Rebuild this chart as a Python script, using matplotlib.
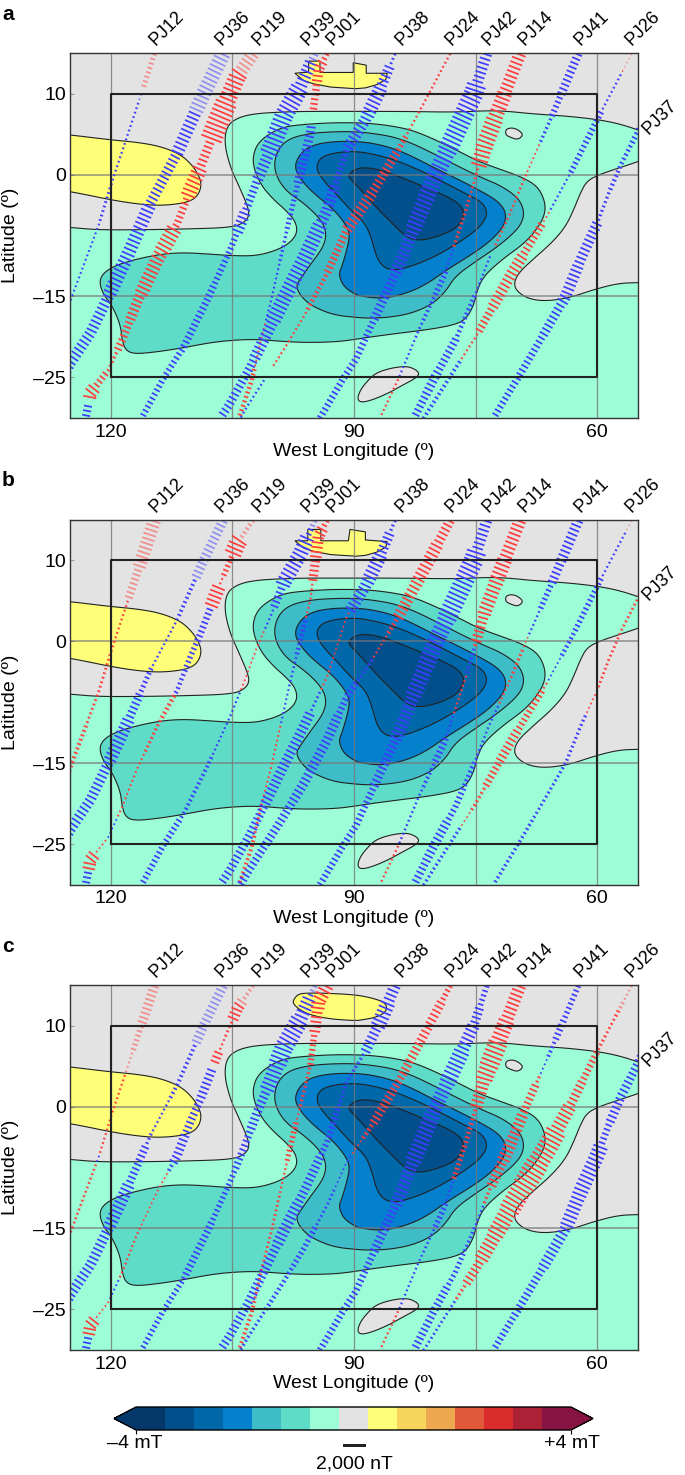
import numpy as np
import matplotlib
matplotlib.use("Agg")
import matplotlib.pyplot as plt
from matplotlib.colors import ListedColormap, BoundaryNorm
from matplotlib.colorbar import ColorbarBase
from matplotlib.patches import Rectangle

plt.rcParams["font.family"] = ["Liberation Sans", "DejaVu Sans"]

######## colour scale

scale_colors = ["#04386b", "#034f8c", "#0068a9", "#0580cc", "#3ebdc9", "#5fdcc8", "#9dfdd6",
                "#e3e3e3", "#fefe78", "#f7d55c", "#eea950", "#e05a3a", "#d92d2d", "#ad2137", "#861342"]
scale_levels = [-4 + i * 8 / 15 for i in range(16)]

######## contours as (west longitude, latitude)

green_region = [(127.5, -6.4), (125, -6.5), (121.7, -6.8), (116.8, -6.8), (110.6, -6.7), (104.9, -6.5), (103.4, -5.8),
                (102.9, -4.9), (103.2, -3.7), (104.2, -1.4), (105.3, 1), (106, 3.9), (105.7, 6), (104.4, 7), (102.4, 7.5),
                (99.5, 7.7), (96.2, 7.8), (92.1, 7.8), (83.9, 7.8), (77.5, 7.7), (73.4, 7.9), (70.9, 7.8), (68, 7.5),
                (63.5, 7.2), (60, 6.8), (57.4, 6.3), (54.9, 5.5), (52.6, 4.7), (52.6, 2.5), (55, 1.6), (57.4, 0.8),
                (59.8, 0), (61.3, -0.8), (62.1, -2.3), (62.9, -4.3), (63.9, -6.4), (65.6, -8.4), (68, -10.5),
                (69.7, -12.1), (70.3, -13.4), (69.9, -14.4), (68.5, -15.3), (66.4, -15.6), (63.5, -15.2), (60.2, -14.1),
                (57.4, -13.4), (55, -13.3), (52.6, -13.3), (52.6, -14), (52.6, -31.5), (52.6, -32.3), (53.5, -32.3),
                (126.5, -32.3), (127.5, -32.3), (127.5, -31.5), (127.5, -7)]
grey_island_north = [(71.3, 5.6), (70.5, 5.8), (69.7, 5.5), (69.1, 4.9), (69.8, 4.3), (70.7, 4.6), (71.3, 4.9)]
grey_island_south = [(89.6, -27.6), (89.2, -26.5), (88.4, -25.5), (87.4, -24.5), (85.7, -23.9), (83.7, -23.6),
                     (82.6, -23.9), (81.9, -24.5), (82.4, -25.1), (84.1, -26), (85.7, -26.9), (87.8, -27.8), (89.2, -28.1)]
yellow_west = [(127.5, 5.1), (125, 4.9), (120.1, 4.3), (116.8, 4), (113.9, 3.5), (111.4, 2.5), (110, 1.2), (109.2, 0),
               (108.8, -1.2), (109.2, -2.5), (110.2, -3.3), (112.3, -3.7), (114.7, -3.8), (117.6, -3.5), (120.5, -3),
               (122.9, -2.5), (125, -2.1), (127.5, -1.7)]
yellow_north_a = [(97.3, 12.5), (96.2, 12.6), (95.6, 12.6), (95.6, 14), (94.2, 14), (94.2, 12.6), (90.1, 12.6), (90.1, 13.8),
                  (88.5, 13.5), (88.5, 12.5), (85.9, 12.5), (86.1, 11.7), (87.2, 11.1), (88.6, 10.7), (89.8, 10.6),
                  (92.9, 10.8), (95, 11.2), (96.2, 11.6)]
yellow_north_b = [(97.3, 12.4), (95.7, 12.4), (95.7, 13.8), (94.1, 13.8), (94.1, 12.4), (90.7, 12.4), (90.5, 13.8),
                  (88.6, 13.5), (88.6, 12.5), (85.9, 12.3), (86.1, 11.6), (87.2, 11), (88.6, 10.6), (89.8, 10.5),
                  (92.9, 10.7), (95, 11.1), (96.2, 11.5)]
yellow_north_c = [(97.5, 13.1), (97, 13.8), (96.2, 14), (93.75, 14), (89.8, 13.8), (87.8, 13.4), (86.3, 12.9), (85.9, 12.2),
                  (86.3, 11.5), (87.4, 11), (89, 10.7), (89.8, 10.6), (92.9, 10.8), (95.4, 11.3), (96.8, 12), (97.5, 12.7)]
level_2 = [(121.4, -13.4), (121.1, -12.3), (119.7, -11.3), (117.2, -10.5), (113.9, -9.8), (111, -9.6), (107.7, -9.8),
           (104.9, -10), (102, -10), (99.5, -9.3), (97.9, -8.4), (97, -7.2), (97.2, -5.8), (98.3, -4.5), (99.9, -3.1),
           (101.4, -1.4), (102.3, 0.6), (102.5, 2.1), (102, 3.7), (100.7, 4.9), (98.7, 5.9), (96.2, 6.2), (92.9, 6.4),
           (89.8, 6.4), (87.8, 6.3), (85.3, 6), (82.9, 5.5), (80.4, 4.5), (77.5, 3.1), (74.6, 1.6), (71.8, 0.6),
           (69.3, -0.3), (67.4, -1.4), (66.5, -3.1), (66.4, -4.7), (67.2, -6.4), (68.9, -8.4), (71.8, -10.5), (74, -12.5),
           (74.8, -14.2), (75.2, -16), (76.1, -17.7), (77.5, -18.5), (80.8, -19.1), (84.9, -19.6), (88.6, -20.1),
           (89.8, -20.3), (92.1, -20.6), (95.4, -20.7), (98.3, -20.6), (102, -20.3), (104.9, -20.4), (107.7, -20.7),
           (111.4, -21.4), (114.7, -21.9), (117.2, -22.1), (118.2, -21.6), (118.6, -20.4), (118.8, -18.7), (119.4, -17.1),
           (120.1, -15.8), (120.9, -14.8)]
level_3 = [(97.2, -13.8), (96.6, -12.8), (95.4, -11.1), (93.7, -8.8), (93.4, -7), (94.2, -5.4), (96.2, -3.5), (98.3, -2.1),
           (99.5, -0.4), (99.9, 1.4), (99.3, 3.3), (97.9, 4.5), (95.4, 5.1), (92.5, 5.3), (89.8, 5.3), (87.8, 5.1), (85.3, 4.7),
           (82.9, 3.9), (80, 2.5), (77.1, 1), (74.2, -0.4), (71.8, -1.4), (69.7, -2.9), (69, -4.5), (69.3, -6), (70.5, -7.4),
           (72.6, -9.1), (75, -10.7), (77.5, -12.5), (78.7, -14.4), (80.4, -16), (82.9, -17.1), (85.7, -17.6), (88.2, -17.7),
           (89.8, -17.6), (92.5, -17.3), (95, -16.3), (96.4, -15.2)]
level_4 = [(91.9, -12.3), (91.5, -11.3), (90.9, -9.3), (90.5, -7.4), (91.1, -6), (92.7, -4.1), (95, -2.3), (96.6, -0.6),
           (97.4, 1), (96.6, 2.7), (95, 3.7), (92.5, 4.1), (89.8, 4.1), (87.8, 3.9), (85.3, 3.3), (82.9, 2.3), (80, 0.8),
           (77.1, -0.6), (74.2, -2.1), (72.2, -3.3), (71.2, -4.7), (71.5, -6.4), (73.4, -8.4), (75.9, -10.1), (78.5, -11.7),
           (81.2, -13.6), (83.7, -14.7), (86.6, -15.3), (89, -15), (89.8, -14.8), (91.3, -13.8)]
level_5 = [(89.8, 2.9), (92.5, 2.7), (94.2, 2.1), (94.7, 0.8), (93.9, -0.6), (92.1, -2.5), (90.5, -4.3), (88.6, -6), (87.8, -8),
           (87.2, -10.3), (86.3, -11.5), (84.9, -11.8), (82.9, -11.3), (80, -10.1), (77.1, -8.4), (74.6, -6.6), (73.5, -5),
           (74, -3.5), (76.3, -2.3), (79.2, -0.8), (82, 0.6), (84.9, 1.8), (87.4, 2.5)]
level_6 = [(90.7, -0.3), (90.5, 0.2), (89.8, 0.7), (88.6, 0.9), (86.8, 0.6), (84.5, -0.2), (81.6, -1.4), (78.9, -2.5),
           (77.1, -3.5), (76.3, -4.7), (77.1, -6.4), (79.2, -7.5), (82, -8.2), (83.7, -7.6), (85.3, -6), (87, -4.3),
           (88.6, -2.5), (89.8, -1.2)]

######## orbit tracks, (west longitude, latitude)

track_names = ["PJ12", "PJ36", "PJ19", "PJ39", "PJ01", "PJ38", "PJ24", "PJ42", "PJ14", "PJ41", "PJ26", "PJ37"]
track_paths = {
    "PJ12": [(114.6, 15), (116, 10.7), (118.4, 3.5), (119.9, -1), (121.5, -6.2), (123.1, -10.5), (124.8, -15), (125.4, -16.9)],
    "PJ36": [(106.1, 15), (108.6, 9.9), (111.8, 2.7), (115.1, -3.5), (118, -10.1), (120.1, -14.6), (122.5, -19.5), (125, -23.2), (125.8, -24.7)],
    "PJ19": [(102.4, 15), (104.4, 12.1), (106.9, 6.2), (109, 0.8), (110.2, -1.9), (111.8, -6), (114.3, -10.5), (116.8, -15.8),
             (118.6, -20.4), (120.3, -24.1), (122.5, -26.9), (123.1, -30)],
    "PJ39": [(94.8, 15), (96.6, 10.9), (98.7, 7.2), (100.3, 3.1), (102, -0.8), (103.6, -5.1), (105.3, -9.3), (108.1, -15.4),
             (111, -21.2), (113.5, -25.1), (116.2, -30)],
    "PJ01": [(93.3, 15), (94.4, 12.9), (94.8, 9.7), (95.4, 5.1), (96.2, 1.8), (97, -1.4), (97.9, -5.1), (99.1, -10.5),
             (100.3, -15.8), (101.4, -20), (102.6, -25.3), (104.2, -30)],
    "PJ38": [(84.9, 15), (86.8, 10.5), (88.6, 6.8), (90.9, 3.1), (93.3, -4.3), (96.2, -10.5), (98.7, -15.4), (100.7, -19.5),
             (102.8, -23.7), (105.3, -28.2), (106.5, -30)],
    "PJ24": [(78.1, 15), (81.4, 8.8), (84.5, 3.1), (87.8, -2.3), (90.9, -6.8), (93.3, -12.1), (96.2, -17.5), (98.7, -21.6),
             (100.3, -24.1), (103.2, -28.6), (104, -30)],
    "PJ42": [(73.6, 15), (75.2, 10.1), (77.5, 5.1), (80, -0.2), (82.4, -6), (84.5, -11.3), (87, -16.7), (89.8, -22.8),
             (91.3, -25.1), (94.2, -30)],
    "PJ14": [(69.5, 15), (73.8, 3.9), (76.3, -4.7), (78.9, -12.5), (82, -19.1), (84.5, -25.1), (86.8, -30)],
    "PJ41": [(62.3, 15), (65.6, 7.2), (68.7, 0.2), (70.9, -5.1), (73.4, -10.5), (75, -14.6), (77.5, -20.4), (80, -24.9), (82.6, -30)],
    "PJ26": [(55.7, 15), (59.6, 7.6), (63.1, 0.6), (66.2, -5.1), (70.5, -12.1), (75, -20), (77.9, -24.5), (81.4, -30)],
    "PJ37": [(54.3, 6.8), (55.1, 5.1), (57, 1.4), (58.6, -2.3), (60, -6), (61.9, -10.1), (63.9, -15), (66.8, -20), (69.7, -24.9), (72.8, -30)],
}

# field along each track in nT, as (lat from, lat to, value)
field_a = {
    "PJ12": [(15, 10.5, 450), (10, -1, -200), (-1, -6, -260), (-6, -17, -180)],
    "PJ36": [(15, 8, -1300), (8, 2.7, -1100), (2.7, -3.5, -900), (-3.5, -9.7, -1150), (-9.7, -14.6, -1200), (-14.6, -25, -950)],
    "PJ19": [(15, 12.5, 1150), (12.5, 9, 1500), (9, 4.3, 1900), (4.3, 0.8, 800), (0.8, -3, 1300), (-3, -6.4, 650), (-6.4, -9.7, 1350),
             (-9.7, -15, 1200), (-15, -18, 900), (-18, -22, 700), (-22, -24.5, 300), (-24.5, -26, 600), (-26, -27.8, 1150), (-28.5, -30, -700)],
    "PJ39": [(15, 14.2, -700), (14.2, 11, -1100), (11, 2.7, -1600), (2.7, -0.6, -1000), (-0.6, -4.7, -700), (-4.7, -7.2, -1000),
             (-7.2, -13.8, -550), (-13.8, -22, -650), (-22, -30, -550)],
    "PJ01": [(15, 14.2, 500), (14.2, 11.3, 900), (11.3, 7.6, 650), (6, -1, -800), (-1, -7, -450), (-7, -11, -300), (-11, -18, -200),
             (-18, -24, 150), (-24, -30, 400)],
    "PJ38": [(15, 13.5, -250), (13.5, 11, -900), (11, 7, -1200), (7, 3, -1000), (3, -1, -550), (-1, -6, -1000), (-6, -12, -1300),
             (-12, -18, -1300), (-18, -23, -1000), (-23, -30, -750)],
    "PJ24": [(15, 5, 210), (5, 2.7, 500), (2.7, -2, 800), (-2, -7, 1000), (-7, -12, 700), (-12, -17, 400), (-17, -23.7, 200), (-24.5, -30, -200)],
    "PJ42": [(15, 11, -950), (11, 3, -1700), (3, -3, -1500), (-3, -7, -1400), (-7, -12, -1100), (-12, -18, -800), (-18, -30, -600)],
    "PJ14": [(15, 10, 1100), (10, 7, 1300), (7, 3, 1500), (3, 1, 1400), (1, -3, 250), (-3, -9, 300), (-9, -12, -200), (-12, -15, -500),
             (-15, -18, -350), (-18, -20.5, -250), (-20.5, -25, -200), (-25, -30, 200)],
    "PJ41": [(15, 10, -750), (10, 7, -550), (7, 4, -300), (4, 0, 150), (0, -9, 220), (-10, -14.5, -200), (-14.5, -20, -400),
             (-20, -24, -700), (-24, -27, -800), (-27, -30, -700)],
    "PJ26": [(15, 12.5, 100), (12.5, 8, -200), (8, 4, -550), (4, 0, -500), (0, -4.5, -200), (-4.5, -6, 150), (-6, -10, 700), (-10, -13, 1000),
             (-13, -16.5, 950), (-16.5, -19.5, 700), (-19.5, -23, 200), (-23, -30, -350)],
    "PJ37": [(9.5, 4, -500), (4, -2, -400), (-2, -6, -300), (-6, -11, -900), (-11, -16, -1000), (-16, -20, -800), (-20, -26, -650), (-26, -30, -600)],
}
field_b = {
    "PJ12": [(15, 9, 1150), (9, 5, 700), (5, 0, 200), (0, -10, 250), (-10, -17, 350)],
    "PJ36": [(15, 8, -850), (8, 3, -350), (3, -3, -200), (-3, -6.5, -450), (-6.5, -9.7, -750), (-9.7, -14.6, -1100), (-14.6, -25, -900)],
    "PJ19": [(15, 12.5, 400), (12.5, 10.5, 1500), (10.5, 8, 500), (8, 7, 200), (7, 4, 1200), (4, 0, -600), (0, -4, -500), (-4, -6.5, -400),
             (-6.5, -9.7, 400), (-9.7, -14, 300), (-14, -22, 180), (-22, -24.5, -150), (-24.5, -26, 150), (-26, -28, 1100), (-28.5, -30, -700)],
    "PJ39": [(15, 13, -500), (13, 7, -1300), (7, 4, -700), (4, 1.5, -200), (1.5, -6, 150), (-6, -14, -200), (-14, -22, -350), (-22, -30, -550)],
    "PJ01": [(15, 14, 500), (14, 10, 1000), (10, 7.5, 800), (7.5, 3, 200), (3, -1.5, -400), (-1.5, -6, -220), (-6, -10, -180), (-10, -20, 180),
             (-20, -24, 250), (-24, -30, 350)],
    "PJ38": [(15, 13.5, -300), (13.5, 11, -900), (11, 7, -1200), (7, 3.5, -1000), (3.5, -3, 150), (-3, -6, 200), (-6, -8.5, -250),
             (-8.5, -14, -900), (-14, -20, -900), (-20, -25, -750), (-25, -30, -750)],
    "PJ24": [(15, 12, 850), (12, 7, 1100), (7, 3, 1000), (3, 1, 400), (1, -2, 180), (-2, -5, -300), (-5, -9, -600), (-9, -14, -850),
             (-14, -20, -850), (-20, -25, -750), (-25, -30, -700)],
    "PJ42": [(15, 11, -950), (11, 3, -1700), (3, -3, -1500), (-3, -7, -1400), (-7, -12, -1100), (-12, -18, -800), (-18, -30, -600)],
    "PJ14": [(15, 10, 1100), (10, 7, 1300), (7, 3, 1200), (3, 0, 900), (0, -1, 350), (-1, -4, -300), (-4, -9, 200), (-9, -12, -200),
             (-12, -15, -600), (-15, -18, -350), (-18, -25, -220), (-25, -30, 200)],
    "PJ41": [(15, 10, -900), (10, 7, -800), (7, 4, -500), (4, 0.5, -200), (0.5, -1, 120), (-1, -4, 300), (-4, -8, 200), (-8, -12, -200),
             (-12, -15, -250), (-15, -18, -450), (-18, -22, -550), (-22, -27, -800), (-27, -30, -700)],
    "PJ26": [(15, 13.5, 100), (13.5, 8, -200), (8, 1, -500), (1, -2, -400), (-2, -5, -150), (-5, -6, 200), (-6, -11, 600), (-11, -15, 800),
             (-15, -18, 650), (-18, -21, 300), (-21, -23, 130), (-23, -30, -300)],
    "PJ37": [(9.5, 9, -200), (9, -6, 250), (-6, -9, 150), (-9, -16, -300), (-16, -22, -280), (-22, -30, -320)],
}
field_c = {
    "PJ12": [(15, 10, 850), (10, 7, 500), (7, 3, 200), (3, -6, 200), (-6, -7, -150), (-7, -17, 220)],
    "PJ36": [(15, 8, -850), (8, 1, -350), (1, -3, -200), (-3, -5, -300), (-5, -9.7, -700), (-9.7, -14.6, -1100), (-14.6, -25, -900)],
    "PJ19": [(15, 13, 350), (13, 10.5, 1000), (10.5, 8.5, 250), (8.5, 7, 200), (7, 5.5, 800), (4.5, 1, -800), (1, -3.5, -700), (-3.5, -7, -800),
             (-7, -8, -350), (-8, -15, 150), (-15, -21, 200), (-21, -24, -180), (-24, -26, 150), (-26, -28, 1100), (-28.5, -30, -700)],
    "PJ39": [(15, 13.5, -500), (13.5, 11, -1200), (11, 5, -1600), (5, 2, -1300), (2, -3, -800), (-3, -8, -650), (-8, -14, -500), (-14, -21, -650), (-21, -30, -500)],
    "PJ01": [(15, 12, 1200), (12, 9, 950), (9, 5, 550), (5, 0, 300), (0, -2, 180), (-2, -5.5, 500), (-5.5, -7, 450), (-7, -11, 200),
             (-11, -17, 250), (-17, -24, 250), (-24, -30, 350)],
    "PJ38": [(15, 13, -1000), (13, 10, -1300), (10, 6.5, -900), (6.5, 0, -300), (0, -6, -550), (-6, -12, -800), (-12, -17, -1000), (-17, -24, -800), (-24, -30, -750)],
    "PJ24": [(15, 13, 500), (13, 8, 800), (8, 4, 800), (4, 2, 700), (2, -2, 800), (-2, -4, 400), (-4, -6, 150), (-6, -10, -150), (-10, -15, -250),
             (-15, -20, -500), (-20, -25, -400), (-25, -30, -300)],
    "PJ42": [(15, 12.5, -500), (12.5, 10, -800), (10, 7, -1100), (7, 3, -1400), (3, -1, -1200), (-1, -7, -1400), (-7, -12, -1100), (-12, -18, -800), (-18, -30, -600)],
    "PJ14": [(15, 11, 1100), (11, 8, 1400), (8, 5, 1700), (5, 3, 1500), (3, 0, 1100), (0, -2, 350), (-2, -9, 450), (-9, -12, -200),
             (-12, -15, -500), (-15, -18, -230), (-18, -25, -200), (-25, -30, 200)],
    "PJ41": [(15, 11, -500), (11, 8, -600), (8, 6, -350), (6, 4, -150), (4, 3, 300), (3, -1, 700), (-1, -4, 1000), (-4, -7, 1100), (-7, -10, 900),
             (-10, -12, 300), (-12, -15, -200), (-15, -18, -300), (-18, -22, -450), (-22, -27, -700), (-27, -30, -700)],
    "PJ26": [(15, 13, 200), (13, 11, 350), (11, 9, 250), (9, 7, 300), (7, 3, 600), (3, 0, 800), (0, -3, 1200), (-3, -7, 1800), (-7, -10, 2000),
             (-10, -13, 1800), (-13, -16, 1500), (-16, -19, 1250), (-19, -22, 800), (-22, -24, 300), (-24, -30, -250)],
    "PJ37": [(9.5, 3, -750), (3, -2, -800), (-2, -5, -600), (-5, -11, -1300), (-11, -15, -1200), (-15, -20, -950), (-20, -26, -700), (-26, -30, -600)],
}
# tracks are drawn paler north of these latitudes
fade_a = {"PJ12": 9, "PJ36": 8, "PJ19": 12.5, "PJ39": 14, "PJ26": 13}
fade_b = {"PJ12": 5, "PJ36": 8, "PJ19": 12.5, "PJ39": 14, "PJ26": 13.5}
fade_c = {"PJ12": 4, "PJ36": 8, "PJ19": 12.5, "PJ39": 14, "PJ26": 12}

label_lons = [113.1, 104.9, 100.4, 94.4, 91.2, 82.8, 76.6, 72.0, 67.6, 60.7, 54.4]

######## layout

W, H = 685.0, 1475.0
NT_PER_DEG = 2000 / (23 / 8.107)    # the 2,000 nT bar is 23 px, one degree 8.107 px
panel_tops = [53, 519.7, 985]
TEXT_SIZE = 14


def smooth(points, n=3):
    """Corner cutting, so the read contour points draw as a soft curve."""
    p = np.array(points, dtype=float)
    for _ in range(n):
        q = np.roll(p, -1, axis=0)
        p = np.column_stack([0.75 * p + 0.25 * q, 0.25 * p + 0.75 * q]).reshape(-1, 2)
    return p


def fill_contour(ax, points, color, use_smooth=True):
    p = smooth(points) if use_smooth else np.array(points)
    ax.fill(p[:, 0], p[:, 1], facecolor=color, edgecolor="#222222", linewidth=0.8, zorder=1)


def draw_track(ax, path, segments, fade):
    path = np.array(path)
    x, y = -path[:, 0], path[:, 1]   # x grows eastward on screen
    dist = np.r_[0, np.cumsum(np.hypot(np.diff(x), np.diff(y)))]
    for s in np.arange(0.2, dist[-1], 0.58):
        i = min(np.searchsorted(dist, s), len(x) - 1)
        dx, dy = x[i] - x[i - 1], y[i] - y[i - 1]
        n = np.hypot(dx, dy)
        px = np.interp(s, dist, x)
        py = np.interp(s, dist, y)
        for top, bottom, value in segments:
            if bottom <= py <= top:
                half = abs(value) / NT_PER_DEG / 2
                nx_, ny_ = -dy / n * half, dx / n * half
                color = "#ff3d3d" if value > 0 else "#3d3dff"
                alpha = 0.5 if fade is not None and py > fade else 1.0
                ax.plot([-(px - nx_), -(px + nx_)], [py - ny_, py + ny_], color=color, alpha=alpha,
                        linewidth=1.25, solid_capstyle="butt", zorder=3)
                break


def draw_panel(top, letter, north, north_smooth, field, fade):
    ax = fig.add_axes([70.3 / W, 1 - (top + 365) / H, 567.5 / W, 365 / H])
    ax.set_facecolor(scale_colors[7])
    fill_contour(ax, green_region, scale_colors[6])
    fill_contour(ax, grey_island_north, scale_colors[7])
    fill_contour(ax, grey_island_south, scale_colors[7])
    fill_contour(ax, yellow_west, scale_colors[8])
    fill_contour(ax, north, scale_colors[8], north_smooth)
    fill_contour(ax, level_2, scale_colors[5])
    fill_contour(ax, level_3, scale_colors[4])
    fill_contour(ax, level_4, scale_colors[3])
    fill_contour(ax, level_5, scale_colors[2])
    fill_contour(ax, level_6, scale_colors[1])

    for lon in [120, 105, 90, 75, 60]:
        ax.axvline(lon, color="#777777", lw=0.9, alpha=0.8, zorder=2)
    for lat in [0, -15]:
        ax.axhline(lat, color="#777777", lw=1.1, alpha=0.8, zorder=2)

    for name in track_names:
        draw_track(ax, track_paths[name], field[name], fade.get(name))

    ax.plot([120, 120, 60, 60, 120], [-25, 10, 10, -25, -25], color="#222222", lw=1.5, zorder=4)

    ax.set_xlim(125, 55)
    ax.set_ylim(-30, 15)
    ax.set_xticks([120, 90, 60])
    ax.set_xticklabels(["120", "90", "60"], fontsize=TEXT_SIZE)
    ax.set_yticks([10, 0, -15, -25])
    ax.set_yticklabels(["10", "0", "–15", "–25"], fontsize=TEXT_SIZE)
    ax.tick_params(axis="x", length=0, pad=4)
    ax.tick_params(axis="y", length=3, direction="in", color="#999999", pad=3)
    for spine in ax.spines.values():
        spine.set_color("#333333")
        spine.set_linewidth(1.0)
        spine.set_zorder(5)
    ax.set_xlabel("West Longitude (º)", fontsize=TEXT_SIZE, va="center")
    ax.xaxis.set_label_coords(0.5, -0.093)
    ax.set_ylabel("Latitude (º)", fontsize=TEXT_SIZE, va="center")
    ax.yaxis.set_label_coords(-0.1045, 0.5)

    for name, lon in zip(track_names[:-1], label_lons):
        ax.text(lon, 18, name, rotation=45, ha="center", va="center", fontsize=13, clip_on=False)
    ax.text(52.3, 7.1, "PJ37", rotation=45, ha="center", va="center", fontsize=13, clip_on=False)

    fig.text(2 / W, 1 - (top - 39) / H, letter, fontsize=15, fontweight="bold", ha="left", va="center")


fig = plt.figure(figsize=(W / 100, H / 100), dpi=100)

draw_panel(panel_tops[0], "a", yellow_north_a, False, field_a, fade_a)
draw_panel(panel_tops[1], "b", yellow_north_b, False, field_b, fade_b)
draw_panel(panel_tops[2], "c", yellow_north_c, True, field_c, fade_c)

######## colour bar and scale bar

cax = fig.add_axes([114 / W, 1 - 1430 / H, 479 / W, 23 / H])
cmap = ListedColormap(scale_colors).with_extremes(under=scale_colors[0], over=scale_colors[-1])
norm = BoundaryNorm(scale_levels, 15)
cb = ColorbarBase(cax, cmap=cmap, norm=norm, orientation="horizontal", extend="both",
                  extendfrac=22 / 435, spacing="uniform", ticks=[-4, 4])
cb.ax.tick_params(length=3, labelbottom=False, width=0.8)
cb.outline.set_linewidth(1.0)
cb.minorticks_off()

fig.text(135 / W, 1 - 1444 / H, "–4 mT", fontsize=TEXT_SIZE, ha="center", va="center")
fig.text(572 / W, 1 - 1444 / H, "+4 mT", fontsize=TEXT_SIZE, ha="center", va="center")
fig.text(354 / W, 1 - 1464 / H, "2,000 nT", fontsize=TEXT_SIZE, ha="center", va="center")
fig.add_artist(Rectangle((342.5 / W, 1 - 1446.5 / H), 23 / W, 3 / H, transform=fig.transFigure,
                         facecolor="#222222", edgecolor="none"))

fig.savefig("out.png", dpi=100)
